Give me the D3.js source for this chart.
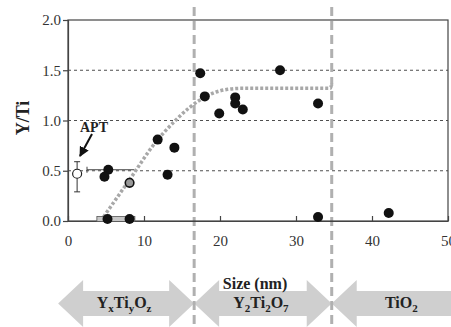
<!DOCTYPE html>
<html>
<head>
<meta charset="utf-8">
<script src="https://cdn.jsdelivr.net/npm/d3@7"></script>
<style>
  body { margin: 0; background: #fff; }
  svg { display: block; }
  svg text { font-family: "Liberation Serif", "Times New Roman", serif; }
</style>
</head>
<body>
<svg id="chart" width="451" height="327"></svg>
<script>
// filled black markers (size nm, Y/Ti)
const sizes  = [17.4, 18.0, 19.9, 11.8, 14.0, 13.1, 5.3, 4.8, 5.2, 8.1, 27.9, 22.0, 22.0, 23.0, 32.9, 32.9, 42.2];
const ratios = [1.47, 1.24, 1.07, 0.81, 0.73, 0.46, 0.51, 0.44, 0.02, 0.02, 1.50, 1.23, 1.17, 1.11, 1.17, 0.04, 0.08];

// grey filled marker
const greySize = [8.1];
const greyRatio = [0.38];

// APT open marker with vertical error bar
const aptSize = 1.2, aptRatio = 0.47, aptLow = 0.29, aptHigh = 0.59;

// horizontal error bars: [y, xmin, xmax]
const xErrY   = [0.51, 0.02];
const xErrMin = [2.5, 3.8];
const xErrMax = [8.7, 8.8];

// guide curve
const fitX = [4.3, 8, 11.7, 14, 16, 17.5, 19, 21, 23, 34.5, 34.7];
const fitY = [0, 0.4, 0.8, 0.99, 1.13, 1.21, 1.27, 1.31, 1.32, 1.32, 1.37];

// phase regions
const boundaries = [16.6, 34.7];
const phaseStart = [-1.3, 16.6, 34.7];
const phaseEnd   = [16.6, 34.7, 53];
const phaseNames = [
  [['Y', ''], ['x', 'sub'], ['Ti', ''], ['y', 'sub'], ['O', ''], ['z', 'sub']],
  [['Y', ''], ['2', 'sub'], ['Ti', ''], ['2', 'sub'], ['O', ''], ['7', 'sub']],
  [['TiO', ''], ['2', 'sub']]
];

const xTicks = [0, 10, 20, 30, 40, 50];
const yTicks = [0, 0.5, 1.0, 1.5, 2.0];
const gridLines = [0.5, 1.0, 1.5];

let svg = d3.select('#chart');
let x = d3.scaleLinear().domain([0, 50]).range([68, 448]);
let y = d3.scaleLinear().domain([0, 2]).range([221, 20]);

// phase arrows at bottom
let arrowY = 303.5, headH = 23.5, bodyH = 12.5, headL = 25;
let arrows = svg.append('g');
phaseStart.forEach(function(s, i) {
  let x0 = x(s), x1 = x(phaseEnd[i]);
  let pts;
  if (i < 2) {
    pts = [[x0, arrowY], [x0 + headL, arrowY - headH], [x0 + headL, arrowY - bodyH],
           [x1 - headL, arrowY - bodyH], [x1 - headL, arrowY - headH], [x1, arrowY],
           [x1 - headL, arrowY + headH], [x1 - headL, arrowY + bodyH],
           [x0 + headL, arrowY + bodyH], [x0 + headL, arrowY + headH]];
  } else {
    pts = [[x0, arrowY], [x0 + headL, arrowY - headH], [x0 + headL, arrowY - bodyH],
           [x1, arrowY - bodyH], [x1, arrowY + bodyH],
           [x0 + headL, arrowY + bodyH], [x0 + headL, arrowY + headH]];
  }
  arrows.append('path')
    .attr('d', d3.line()(pts) + 'Z')
    .style('fill', '#cfcfcf');

  let cx = i < 2 ? (x0 + x1) / 2 - 2 : (x0 + 451) / 2 + 10;
  let t = arrows.append('text')
    .attr('x', cx)
    .attr('y', arrowY + 4)
    .attr('text-anchor', 'middle')
    .style('font-weight', 'bold')
    .style('font-size', '16px')
    .style('fill', '#222');
  phaseNames[i].forEach(function(p, k) {
    let prevSub = k > 0 && phaseNames[i][k - 1][1] === 'sub';
    let ts = t.append('tspan').text(p[0]);
    if (p[1] === 'sub') ts.attr('dy', 4).style('font-size', '11px');
    else if (prevSub) ts.attr('dy', -4);
  });
});

// horizontal grid
svg.append('g').selectAll('line')
  .data(gridLines)
  .enter().append('line')
  .attr('x1', x(0)).attr('x2', x(50))
  .attr('y1', d => y(d)).attr('y2', d => y(d))
  .style('stroke', '#222')
  .style('stroke-width', 0.8)
  .style('stroke-dasharray', '3,3');

// phase boundaries
svg.append('g').selectAll('line')
  .data(boundaries)
  .enter().append('line')
  .attr('x1', d => x(d)).attr('x2', d => x(d))
  .attr('y1', 7).attr('y2', 327)
  .style('stroke', '#b0b0b0')
  .style('stroke-width', 3)
  .style('stroke-dasharray', '9,5');

// frame
svg.append('rect')
  .attr('x', x(0)).attr('y', y(2))
  .attr('width', x(50) - x(0)).attr('height', y(0) - y(2))
  .style('fill', 'none')
  .style('stroke', '#444')
  .style('stroke-width', 1.2);

// axes
let yAxis = svg.append('g')
  .attr('transform', 'translate(' + x(0) + ',0)')
  .call(d3.axisLeft(y).tickValues(yTicks).tickFormat(d3.format('.1f')).tickSize(5).tickPadding(2));
let xAxis = svg.append('g')
  .attr('transform', 'translate(0,' + y(0) + ')')
  .call(d3.axisBottom(x).tickValues(xTicks).tickSizeInner(-5).tickSizeOuter(0).tickPadding(14));
[xAxis, yAxis].forEach(function(a) {
  a.attr('font-family', null).attr('font-size', null);
  a.select('.domain').style('stroke', '#444').style('stroke-width', 1.2);
  a.selectAll('.tick line').style('stroke', '#444').style('stroke-width', 1.2);
  a.selectAll('.tick text')
    .style('font-size', '15px')
    .style('fill', '#333');
});

// axis titles
svg.append('text')
  .attr('transform', 'translate(29,118) rotate(-90)')
  .attr('text-anchor', 'middle')
  .style('font-weight', 'bold')
  .style('font-size', '18px')
  .style('fill', '#222')
  .text('Y/Ti');
svg.append('text')
  .attr('x', 255).attr('y', 289)
  .attr('text-anchor', 'middle')
  .style('font-weight', 'bold')
  .style('font-size', '16px')
  .style('fill', '#222')
  .text('Size (nm)');

// guide curve
svg.append('path')
  .datum(fitX.map((d, i) => [d, fitY[i]]))
  .attr('d', d3.line().x(d => x(d[0])).y(d => y(d[1])).curve(d3.curveMonotoneX))
  .style('fill', 'none')
  .style('stroke', '#a8a8a8')
  .style('stroke-width', 3.5)
  .style('stroke-dasharray', '3,2');

// horizontal error bars
xErrY.forEach(function(v, i) {
  if (i === 1) {
    svg.append('rect')
      .attr('x', x(xErrMin[i])).attr('y', y(v) - 2.5)
      .attr('width', x(xErrMax[i]) - x(xErrMin[i])).attr('height', 5)
      .style('fill', '#c8c8c8')
      .style('stroke', '#555')
      .style('stroke-width', 0.8);
  } else {
    svg.append('line')
      .attr('x1', x(xErrMin[i])).attr('x2', x(xErrMax[i]))
      .attr('y1', y(v)).attr('y2', y(v))
      .style('stroke', '#444').style('stroke-width', 1);
    svg.append('line')
      .attr('x1', x(xErrMin[i])).attr('x2', x(xErrMin[i]))
      .attr('y1', y(v) - 3).attr('y2', y(v) + 3)
      .style('stroke', '#444').style('stroke-width', 1);
  }
});

// data markers
svg.append('g').selectAll('circle')
  .data(sizes)
  .enter().append('circle')
  .attr('cx', d => x(d))
  .attr('cy', (d, i) => y(ratios[i]))
  .attr('r', 5)
  .style('fill', '#111');

svg.append('g').selectAll('circle')
  .data(greySize)
  .enter().append('circle')
  .attr('cx', d => x(d))
  .attr('cy', (d, i) => y(greyRatio[i]))
  .attr('r', 4.3)
  .style('fill', '#999')
  .style('stroke', '#111')
  .style('stroke-width', 1.6);

// APT point with error bar
let apt = svg.append('g');
apt.append('line')
  .attr('x1', x(aptSize)).attr('x2', x(aptSize))
  .attr('y1', y(aptLow)).attr('y2', y(aptHigh))
  .style('stroke', '#333').style('stroke-width', 1);
[aptLow, aptHigh].forEach(function(v) {
  apt.append('line')
    .attr('x1', x(aptSize) - 3).attr('x2', x(aptSize) + 3)
    .attr('y1', y(v)).attr('y2', y(v))
    .style('stroke', '#333').style('stroke-width', 1);
});
apt.append('circle')
  .attr('cx', x(aptSize)).attr('cy', y(aptRatio))
  .attr('r', 4.5)
  .style('fill', '#fff')
  .style('stroke', '#222')
  .style('stroke-width', 1.2);

// APT annotation
svg.append('defs').append('marker')
  .attr('id', 'head')
  .attr('viewBox', '0 0 10 10')
  .attr('refX', 9).attr('refY', 5)
  .attr('markerWidth', 5).attr('markerHeight', 5)
  .attr('orient', 'auto')
  .append('path').attr('d', 'M0,0L10,5L0,10Z').style('fill', '#111');
svg.append('line')
  .attr('x1', 92).attr('y1', 134)
  .attr('x2', 80).attr('y2', 156)
  .attr('marker-end', 'url(#head)')
  .style('stroke', '#111').style('stroke-width', 2);
svg.append('text')
  .attr('x', 80).attr('y', 132)
  .style('font-weight', 'bold')
  .style('font-size', '14px')
  .style('fill', '#222')
  .text('APT');
</script>
</body>
</html>
